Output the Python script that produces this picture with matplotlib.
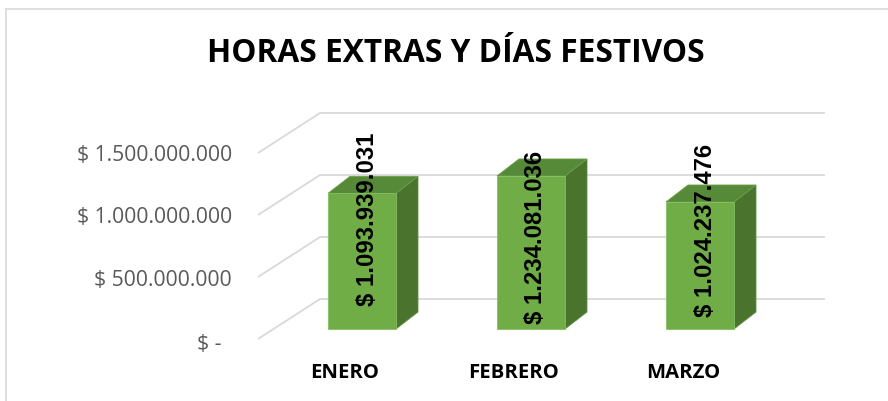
import matplotlib
matplotlib.use("Agg")
import matplotlib.pyplot as plt
from matplotlib.patches import Polygon
from matplotlib.lines import Line2D

# ---- data ----
categories = ["ENERO", "FEBRERO", "MARZO"]
values = [1093939031, 1234081036, 1024237476]
value_labels = ["$ 1.093.939.031", "$ 1.234.081.036", "$ 1.024.237.476"]
tick_values = [0, 500000000, 1000000000, 1500000000]
tick_labels = ["$ -", "$ 500.000.000", "$ 1.000.000.000", "$ 1.500.000.000"]
title = "HORAS EXTRAS Y DÍAS FESTIVOS"

# ---- layout (pixel geometry of the pseudo-3D scene) ----
W, H = 888, 402
X0, SPX = 362.0, 169.0      # px of first category, px between categories
Y0, SPY = 330.0, 124.0      # px of zero on bar front plane, px per 1e9
ppx = 1.0 / SPX
ppy = 1e9 / SPY

fig = plt.figure(figsize=(W / 100, H / 100), dpi=100)
ax = fig.add_axes([0, 0, 1, 1])
ax.set_xlim((0 - X0) * ppx, (W - X0) * ppx)
ax.set_ylim((Y0 - H) * ppy, Y0 * ppy)
ax.axis("off")

grid_c = "#D9D9D9"
# back wall gridlines + left side wall diagonals
wall_dy = 30 * ppy
wall_x0 = (320 - X0) * ppx
wall_x1 = (825 - X0) * ppx
side_x = (258 - X0) * ppx
side_dy = 40 * ppy
for tv, tl in zip(tick_values, tick_labels):
    yb = tv + wall_dy
    ax.plot([side_x, wall_x0, wall_x1], [yb - side_dy, yb, yb],
            color=grid_c, lw=1.3, zorder=1, solid_capstyle="butt")
    xr = (232 - X0) * ppx if tv != 0 else (222 - X0) * ppx
    ax.text(xr, yb - side_dy - (2 * ppy if tv else 5 * ppy), tl,
            ha="right", va="center", fontsize=15.2, color="#595959",
            family=["Open Sans", "DejaVu Sans"])

# bars
bw = 68 * ppx
ddx, ddy = 22 * ppx, 17 * ppy
front_c, top_c, side_c = "#70AD47", "#568A38", "#4A742D"
for i, v in enumerate(values):
    xl, xr = i - bw / 2, i + bw / 2
    front = Polygon([(xl, 0), (xr, 0), (xr, v), (xl, v)], closed=True,
                    facecolor=front_c, edgecolor="#86BD62", lw=0.6, zorder=3)
    top = Polygon([(xl, v), (xr, v), (xr + ddx, v + ddy), (xl + ddx, v + ddy)],
                  closed=True, facecolor=top_c, edgecolor="#6A9E4A", lw=0.6, zorder=3)
    side = Polygon([(xr, 0), (xr + ddx, ddy), (xr + ddx, v + ddy), (xr, v)],
                   closed=True, facecolor=side_c, edgecolor="#5E8F42", lw=0.6, zorder=3)
    for p in (side, top, front):
        ax.add_patch(p)

# data labels (rotated)
label_y = [0.895e9, 0.75e9, 0.806e9]
for i, (lab, ly) in enumerate(zip(value_labels, label_y)):
    ax.text(i + 5 * ppx, ly, lab, rotation=90, ha="center", va="center",
            fontsize=17.2, fontweight="bold", color="black",
            family=["Liberation Sans", "DejaVu Sans"], zorder=5)

# category labels
for i, c in enumerate(categories):
    ax.text(i - 17 * ppx, (Y0 - 373) * ppy, c, ha="center", va="center",
            fontsize=14.6, fontweight="bold", color="black",
            family=["Open Sans", "DejaVu Sans"])

# title
ax.text((456 - X0) * ppx, (Y0 - 54) * ppy, title, ha="center", va="center",
        fontsize=22.8, fontweight="bold", color="black",
        family=["Open Sans", "DejaVu Sans"])

# chart frame (left and top borders)
fig.add_artist(Line2D([5.5 / W, 5.5 / W], [0, 1 - 9.5 / H], color=grid_c, lw=1.2,
                      transform=fig.transFigure))
fig.add_artist(Line2D([5.5 / W, 1], [1 - 9.5 / H, 1 - 9.5 / H], color=grid_c, lw=1.2,
                      transform=fig.transFigure))

fig.savefig("out.png", dpi=100)
